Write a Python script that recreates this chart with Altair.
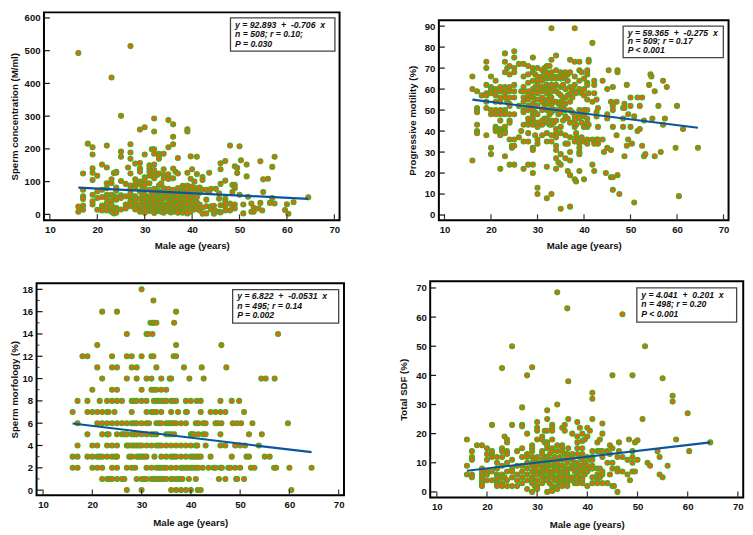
import altair as alt
import pandas as pd

AGE_TICKS = [10, 20, 30, 40, 50, 60, 70]

# Sperm concentration: age -> values
conc = {
 16:[493,24,8], 17:[125,75,55,47,27,14], 18:[216], 19:[205,183,141,127,105,60,40,30],
 20:[118,70,50,14], 21:[152,75,53,27,18,12], 22:[210,143,95,80,60,50,35,20,12],
 23:[418,107,95,60,42,30,15,8], 23.5:[126,55,3], 24:[130,127,82,72,52,45,20,12,5],
 25:[301,192,176,102,58,50,15], 26:[93,55,30,18], 26.5:[143],
 27:[514,214,189,170,125,88,78,65,50,40,30,25], 28:[155,107,92,80,55,45,35,22,15],
 29:[259,157,140,130,100,92,70,48,30,18,8], 29.5:[85,62,40,12],
 30:[266,183,113,105,90,75,60,45,35,25,15,5], 31:[150,140,130,118,95,75,55,40,30,20,10],
 31.5:[199,125,68,48,22,14], 32:[293,253,199,185,152,135,110,78,62,45,32,20,12,4],
 32.6:[120,72,55,28,10], 33:[185,178,170,125,88,70,50,38,25,12],
 33.5:[95,66,42,18,8], 34:[185,138,120,110,80,60,48,30,18,5], 34.5:[70,52,24,12],
 35:[288,205,122,108,78,55,35,22,10], 35.5:[65,44,28,6],
 36:[275,237,214,140,110,75,55,40,28,15,8], 36.5:[130,62,48,20,12],
 37:[172,125,80,60,45,30,15,5], 37.5:[70,38,22], 38:[87,65,50,35,20,10,5], 38.5:[78,58,42,14],
 39:[260,253,127,88,75,60,50,30,15,3], 39.7:[177,109,68,35,8], 40:[138,85,60,45,25],
 40.5:[100,72,52,30,15], 41:[176,123,80,52,36,22], 41.6:[82,66,30,12], 42.2:[114,105,75,20,2],
 43:[75,45,25,3], 43.6:[127,68], 44:[78,25,15], 44.6:[2,26], 45:[78,10], 45.7:[64,48,8],
 46:[156,138,93,28,6], 47:[163,103,48,38,25,12], 48:[210,33,12], 48.5:[90,68,20],
 49:[147,90,80,30,18], 49.5:[142,126], 50:[208,60], 50.3:[165], 50.8:[30,3], 51.5:[152,116],
 51.8:[54], 52.5:[33,8], 53:[20,8], 54:[18], 54.4:[162,35], 54.8:[12], 55:[107,68],
 56:[109], 56.4:[35], 56.9:[145,50], 57.4:[176,33], 59.6:[13], 60:[31], 60.3:[2], 61.4:[37], 64.5:[52],
}

# Progressive motility: age -> values
moti = {
 16:[66,60,26], 17:[59,51,50,49,43,40,39], 18:[57], 19:[73,70,62,58,57,54,51,38],
 20:[66,61,60,59,58,50,48,32,29], 21:[64,60,59,57,54,50,48,42,41,40],
 22:[61,59,56,54,50,48,45,41,40,39,38,22], 23:[77,73,68,61,60,58,56,50,49,48,42,40,39,28],
 23.5:[70,54], 24:[71,67,61,59,56,53,52,48,45,44,36,24], 24.5:[32,33],
 25:[78,75,70,68,62,59,56,48,36,33,24], 26:[72,52,37], 26.5:[59,40],
 27:[72,66,61,59,56,54,50,49,43,35,22], 28:[71,67,63,59,57,55,52,50,46,44,43,39,35,24],
 29:[75,70,68,64,60,58,56,53,50,48,46,44,43,32,31,24,20], 29.5:[67,61,55,49,38],
 30:[70,66,64,62,60,58,55,52,48,44,42,36,34,13,10], 31:[69,66,64,61,59,56,54,50,45,43,38],
 31.5:[70,67,60,52,46], 32:[71,68,65,62,60,58,55,53,50,46,44,39,35,23,8],
 32.6:[71,66,61,57,54,48,43], 33:[89,74,68,65,62,59,56,52,49,45,43,38,35,10],
 33.5:[66,60,54,50,44], 34:[76,69,65,62,59,54,50,45,41,39,37,33,31,27,22],
 34.5:[66,58,53,48,25], 35:[68,65,61,57,54,51,49,42,39,29,24,3],
 35.5:[67,62,55,52,45], 36:[68,65,60,56,53,50,47,38,34,27], 36.5:[67,64,57,46,34,21],
 37:[74,68,61,58,54,50,44,37,30,26,19,4], 37.5:[60,56,49], 38:[89,73,66,62,59,47,45,42,35,17],
 38.3:[58,43,39,37,16], 39:[73,69,64,60,50,48,46,36,34,32,30,29,21], 39.5:[68,58,49,44,37],
 40:[65,60,57,50,47,42,35,17], 40.7:[69,67,63,62,55,50,46,44,42,36,34], 41:[74,73,58,43],
 41.8:[82,54,36,24], 42.2:[64,62,58,34,21], 42.7:[55,49,47,36], 43:[51,42,34,36],
 44:[64,36], 44.3:[30], 44.7:[20], 45:[60,48,46,32], 45.3:[69], 45.8:[54,31,18],
 46.2:[61,52,50,42,18,12], 47:[54,38], 47.2:[69,68,19], 47.6:[10], 48.4:[51,46,42],
 48.7:[53,51,28], 49.2:[62,33], 49.5:[48,36], 50:[56,52,42], 50.3:[34], 50.8:[6,47],
 51.5:[56,40], 52:[52,41], 52.5:[56,33], 52.9:[45,28], 53.2:[29], 54:[62], 54.3:[67],
 54.5:[66], 54.7:[46], 55.2:[59,28], 56:[52], 56.5:[30], 57:[64,43], 57.4:[46], 57.8:[61],
 59.7:[32], 60:[52], 60.4:[9], 61.3:[41], 64.5:[32],
}

# Sperm morphology: value -> ages
morph = {
 18:[30], 17:[32.4], 16:[22,25,37], 15:[31.8,32.2,32.5,33,36.6], 14:[27,31,31.3,32.2,57.7],
 13:[21,37,46.2], 12:[18,19,24,27,28,30,32,32.4,36.5,37], 11:[21,24,25,28,29,33,38.6,42.2,47.2],
 10:[22,27,29,31,32,34,35.7,36,39.7,42.6,54.3,55.2,57], 9:[20,24,25,30,32,32.5,33,34,35],
 8:[17,19,21.5,23,24,25,26,28,28.5,29,30,31,32.5,33,33.5,34,34.5,35,36,36.5,37,39,40,41.2,42,46,48.3,49.8],
 7:[16,19,20,21,22,23,23.3,24.5,28,31,32,32.3,33,34,36,37.4,39,39.2,42,44,45,46,47,50.8],
 6:[17,21,22,23,24,25,26,27,28,28.5,29,30,31,31.5,33,33.5,34,35,35.5,36,36.5,37,38,39,41,41.5,42.5,43,45,45.5,46.2,48.5,49.3,50.2,52.5,59.7],
 5:[19,22,23,23.3,25,26,26.5,27,28,28.5,29,30,31,32,32.5,33,35,35.5,36,36.6,40,40.2,40.6,41.5,42.5,43,46,51.8,54.4],
 4:[17,20,21,23,24,25,27,27.3,28,28.5,29,29.5,30,31,32,33,33.5,34,35,36,37,38,39,40,41,41.3,43,46,47,49,50,51,53.8],
 3:[16,17,19,20,21,21.5,22,23,24,24.7,25,27.5,28,29,29.5,30,30.5,31,32.6,34,35,36,36.5,37,38,39,40,40.5,41,41.5,42,44,48.3,51.3,51.8,55,56],
 2:[16,17,20,21,22,24,25,27,28,28.7,31,32,33,33.5,34,34.5,35,36,37,38,38.5,39,39.4,40,40.4,41,41.5,42.4,43.6,44.6,45,46,46.3,47.6,48,49,50,52.2,52.9,56.9,57.3,60,64.5],
 1:[22,23,23.5,24,25,26,26.5,29,30,30.5,31,32,32.5,33,33.5,34,34.5,35,36,36.3,37,37.5,38,38.3,39.6,41,45.7,47,49.2,49.4,50.8],
 0:[27,30,36,37,38,39,40,41.4,42,60.4],
}

# Total SDF: age -> values
sdf = {
 16:[18,9,6], 17:[14,12,11,6,5], 18:[16], 19:[16,8,7,6,5,4,3,2], 20:[15,13,11,7,6,4],
 21:[23,14,13,12,7,4], 22:[12,10,8,6,5,4,3,2], 23:[42.5,15,14,12,9,6,5,3,2], 23.5:[19,5],
 24:[18,17,14,13,10,7,4,2], 25:[50,23,11,8,7,5,2], 26:[14,9,6,4,2], 27:[29,23,22.5,15,12,9,7,5,3],
 28:[40,20,13,12,10,8,6,4,1], 29:[42.8,16,15,14,12,10,9,7,5,4,3,0], 29.5:[11,8,6,2],
 30:[24,22,21,18,12,10,9,7,6,4,2,1], 31:[19,18,14,13,11,9,8,7,6,5,3], 31.5:[21,17,12,10,7,4],
 32:[28,25,21,17,16,15,12,10,9,8,7,5,4,0], 32.5:[13,11,6,3], 33:[23,22,21,18,15,14,11,9,7,6,5,2,1,0.3],
 33.5:[12,10,8,4], 34:[68.5,30,16,14,11,10,8,7,5,4,2,1], 34.5:[12,9,6,3],
 35:[22,16,15,14,11,9,7,6,5,3,2], 35.5:[23,21,13,8,4], 36:[63,13,12,10,8,7,6,5,4,3,2],
 36.2:[38,25,15], 37:[20,13,12,11,9,8,5,4], 37.5:[10,7,3], 38:[24,19,17,15,13,10,8,6,5,3],
 38.5:[22,12,9,7,4], 39:[20,17.5,15,13,11,9,7,5,4,3], 39.5:[18,10,8,6], 40:[22,19,12,9,7,2],
 40.5:[21,11,8], 41:[34,32,25,14,12,11,9,8,5,3], 42:[17,14,8,6,5,4,3], 42.5:[18,14,8,5],
 43:[23.5,20,14,12,7,6,3], 44:[14,10,3], 44.5:[16,13,6], 45:[40,15,10,8,2], 45.3:[2],
 46:[12,8,7,0], 46.3:[17,14], 47:[61,12,7], 48:[11,6], 48.3:[18], 48.5:[4], 49:[40,14,12,10,7],
 49.5:[17,7], 50:[17.7,11], 51:[25], 51.5:[50], 52:[10], 52.5:[9], 54:[14], 54.4:[12,6],
 55:[39,5], 56:[9], 57:[33,31], 57.7:[18], 60:[27], 60.3:[14], 64.5:[17],
}

NB = "\u00a0"
lines = [
 [f"y = 92.893{NB}{NB}+{NB}{NB}-0.706{NB}{NB}x", "n = 508; r = 0.10;", "P = 0.030"],
 [f"y = 59.365{NB}{NB}+{NB}{NB}-0.275{NB}{NB}x", "n = 509; r = 0.17", "P < 0.001"],
 [f"y = 6.822{NB}{NB}+{NB}{NB}-0.0531{NB}{NB}x", "n = 495; r = 0.14", "P = 0.002"],
 [f"y = 4.041{NB}{NB}+{NB}{NB}0.201{NB}{NB}x", "n = 498; r = 0.20", "P < 0.001"],
]


def by_age(d):
    return pd.DataFrame([(a, v) for a, vs in d.items() for v in vs], columns=["age", "val"])


def by_val(d):
    return pd.DataFrame([(a, v) for v, ages in d.items() for a in ages], columns=["age", "val"])


def panel(df, reg, ytitle, w, h, xdom, ydom, yticks, yminor, txt, box, tx, ty, title_x, x_title_y):
    x = alt.X("age:Q", scale=alt.Scale(domain=xdom, nice=False, zero=False),
              axis=alt.Axis(title="Male age (years)", values=AGE_TICKS, ticks=False, grid=False,
                            domain=False, labelFont="Liberation Sans", labelFontWeight="bold",
                            labelFontSize=9.7, labelColor="#111", labelPadding=4,
                            titleFont="Liberation Sans", titleFontWeight="bold", titleFontSize=9.8,
                            titleColor="#111", titleY=x_title_y, labelFlush=False))
    y = alt.Y("val:Q", scale=alt.Scale(domain=ydom, nice=False, zero=False),
              axis=alt.Axis(title=ytitle, values=yticks, ticks=False, grid=False, domain=False,
                            labelFont="Liberation Sans", labelFontWeight="bold", labelFontSize=9.7,
                            labelColor="#111", labelPadding=4, titleFont="Liberation Sans",
                            titleFontWeight="bold", titleFontSize=9.8, titleColor="#111",
                            titleX=title_x, labelFlush=False))
    pts = alt.Chart(df).mark_point(filled=False, fill="#ea6408", stroke="#43ad25", strokeWidth=1.1,
                                   size=26, opacity=1, fillOpacity=1).encode(x=x, y=y)
    rl = alt.Chart(pd.DataFrame(reg, columns=["age", "val"])).mark_line(
        color="#0b559f", strokeWidth=2.2).encode(x=x, y=y)
    xt = alt.Chart(pd.DataFrame({"age": AGE_TICKS})).mark_rule(color="#333", strokeWidth=1.2).encode(
        x=x, y=alt.value(h), y2=alt.value(h - 6))
    yt = alt.Chart(pd.DataFrame({"val": yticks})).mark_rule(color="#111", strokeWidth=1.2).encode(
        y=y, x=alt.value(0), x2=alt.value(6))
    layers = [pts, rl, xt, yt]
    if yminor:
        ym = alt.Chart(pd.DataFrame({"val": yminor})).mark_rule(color="#333", strokeWidth=1).encode(
            y=y, x=alt.value(0), x2=alt.value(3))
        layers.append(ym)
    rect = alt.Chart(pd.DataFrame({"k": [0]})).mark_rect(
        fill="white", stroke="#444", strokeWidth=1.3).encode(
        x=alt.value(box[0]), x2=alt.value(box[1]), y=alt.value(box[2]), y2=alt.value(box[3]))
    layers.append(rect)
    for t, yy in zip(txt, ty):
        layers.append(alt.Chart(pd.DataFrame({"t": [t]})).mark_text(
            align="left", baseline="middle", font="Liberation Sans", fontSize=8.8,
            fontStyle="italic", fontWeight="bold", color="#111").encode(
            text="t:N", x=alt.value(tx), y=alt.value(yy)))
    return alt.layer(*layers).properties(width=w, height=h)


def spacer():
    return alt.Chart(pd.DataFrame({"k": [0]})).mark_point(opacity=0).encode(
        x=alt.value(0), y=alt.value(0)).properties(width=1, height=1, view=alt.ViewConfig(stroke="transparent"))


p1 = panel(by_age(conc), [(16, 81.6), (64.5, 47.4)], "Sperm concentration (M/ml)", 300, 211,
           [8.75, 71.1], [-18, 617], [0, 100, 200, 300, 400, 500, 600], [], lines[0],
           (189.3, 295.3, 5.7, 39.3), 194, (12.7, 22, 31.7), -25, 21)
p2 = panel(by_age(moti), [(16, 55), (64.5, 41.6)], "Progressive motility (%)", 294, 203,
           [8.79, 71.08], [-2.49, 92.8], [0, 10, 20, 30, 40, 50, 60, 70, 80, 90], [], lines[1],
           (187, 288.7, 6, 38), 191.7, (12.7, 21.3, 30.3), -21.5, 20.7)
p3 = panel(by_val(morph), [(16, 5.97), (64.5, 3.4)], "Sperm morfology (%)", 312, 215.3,
           [8.68, 71.08], [-0.47, 18.55], [0, 2, 4, 6, 8, 10, 12, 14, 16, 18],
           [1, 3, 5, 7, 9, 11, 13, 15, 17], lines[2],
           (199, 306.6, 6.6, 40.6), 203.6, (13.3, 23, 32.6), -17.2, 22.7)
p4 = panel(by_age(sdf), [(16, 7.26), (64.5, 17)], "Total SDF (%)", 317.7, 219.3,
           [8.68, 71.07], [-1.89, 72.27], [0, 10, 20, 30, 40, 50, 60, 70], [], lines[3],
           (209.7, 311, 6.7, 41.3), 214.3, (13.7, 23.3, 33), -21.8, 22.7)

left1 = alt.concat(spacer(), p1, columns=2, align="none", spacing=-32.5)
right1 = alt.concat(spacer(), p2, columns=1, align="none", spacing=3)
left2 = alt.concat(spacer(), p3, columns=1, align="none", spacing=-3.1)
row1 = alt.concat(left1, right1, columns=2, align="none", spacing=66.3)
row2 = alt.concat(left2, p4, columns=2, align="none", spacing=53.5)
chart = alt.concat(row1, row2, columns=1, align="none", spacing=26,
                   padding={"top": -3.5, "left": 0, "right": 0, "bottom": 0},
                   background="white").configure_view(stroke="#000", strokeWidth=2)
chart.save("out.html", embed_options={"renderer": "svg", "actions": False})
